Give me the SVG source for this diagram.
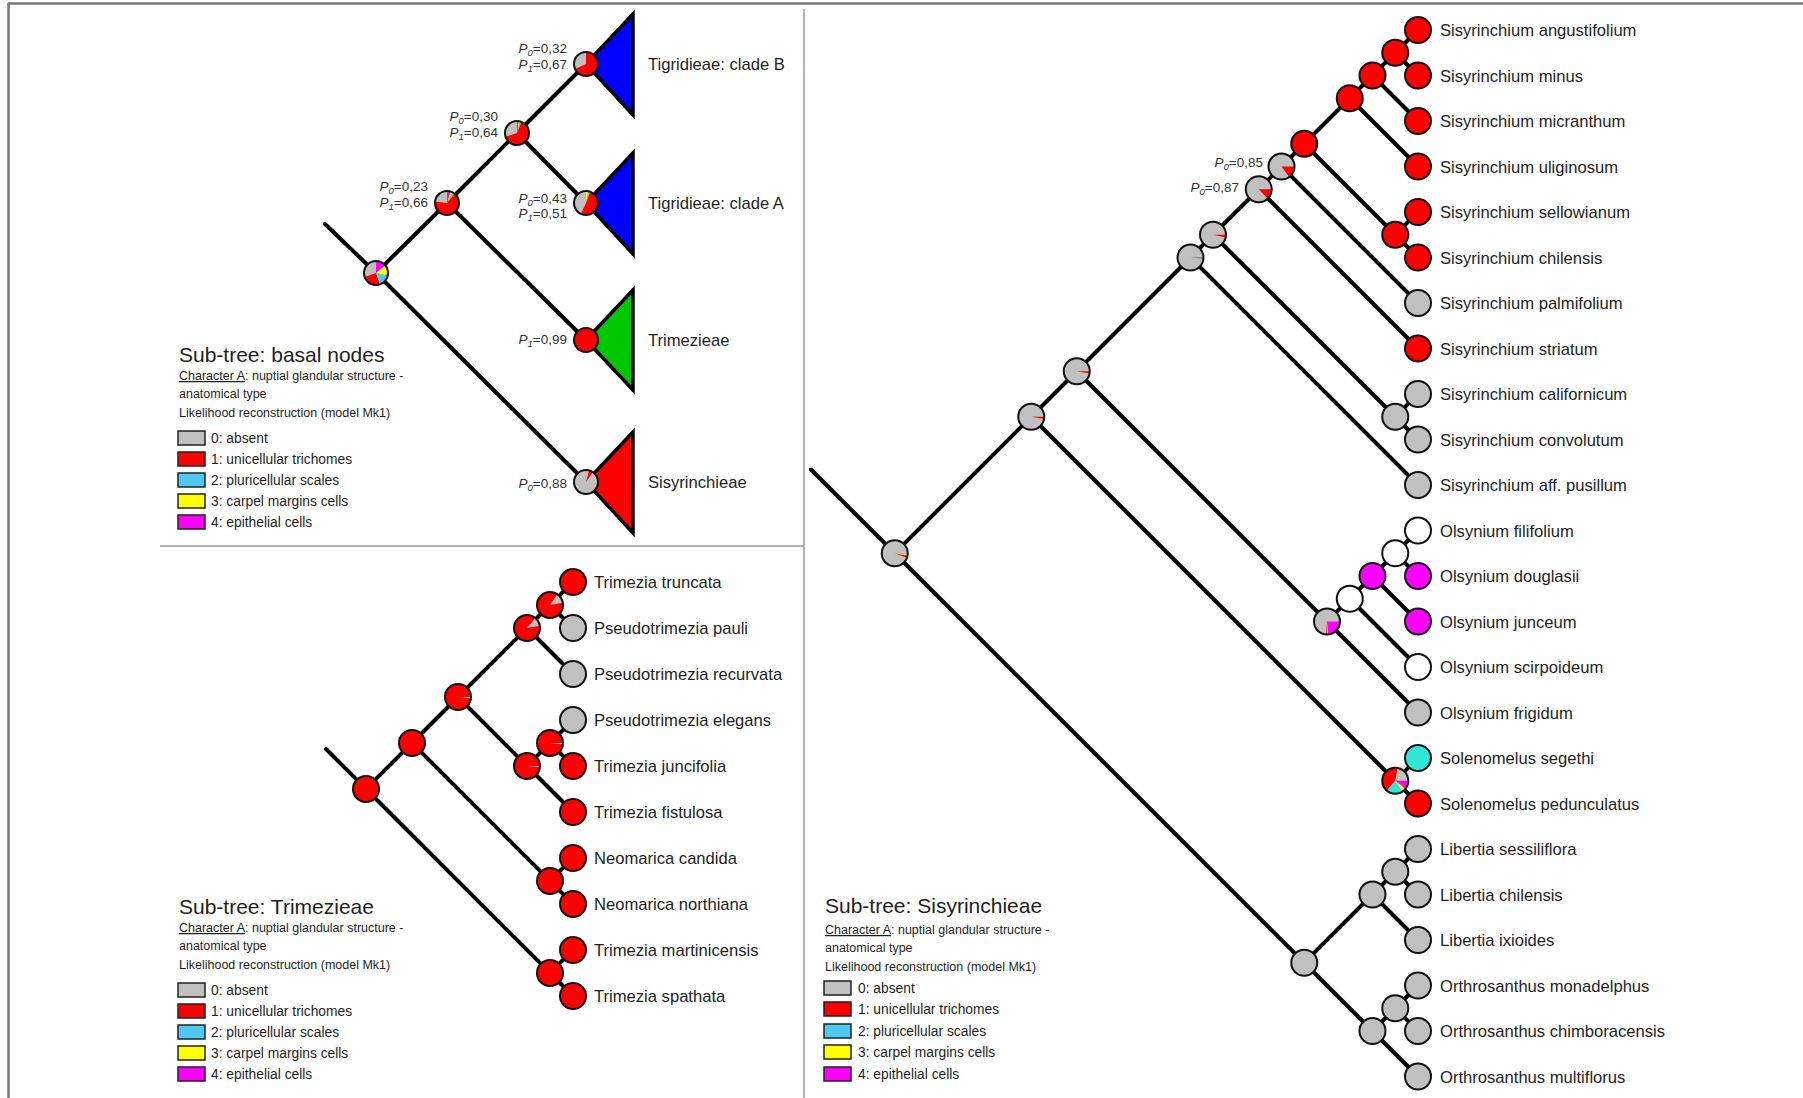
<svg xmlns="http://www.w3.org/2000/svg" width="1803" height="1098" viewBox="0 0 1803 1098">
<style>
text{font-family:"Liberation Sans",Arial,sans-serif;fill:#1e1e1e}
.lab{font-size:16.6px}
.pl{font-size:13.5px;fill:#333}
.ttl{font-size:21px}
.ch{font-size:12.5px}
.li{font-size:13.8px}
.br{stroke:#000;stroke-width:4;fill:none;stroke-linecap:round}
.ring{fill:none;stroke:#111;stroke-width:2}
.frame{stroke:#777;fill:none}
.g{fill:#c0c0c0}.r{fill:#ff0000}.c{fill:#4fc8f2}.y{fill:#ffff00}.m{fill:#ff00ff}.w{fill:#fff}.t{fill:#30e6d4}
.box{stroke:#222;stroke-width:1.5}
.tri{stroke:#000;stroke-width:3.5;stroke-linejoin:miter}
</style>
<rect x="0" y="0" width="1803" height="1098" fill="#fff"/>
<g id="frame">
<line class="frame" x1="8" y1="3.5" x2="1803" y2="3.5" stroke-width="2.5"/>
<line class="frame" x1="8.5" y1="3" x2="8.5" y2="1098" stroke-width="2.5"/>
<line x1="804" y1="9" x2="804" y2="1098" stroke="#999" stroke-width="1.5"/>
<line x1="160" y1="546" x2="804" y2="546" stroke="#999" stroke-width="1.5"/>
</g>

<g id="connectors">
<path class="br" d="M325,224 L376,273 L447,203 L517,133 L586,64 M517,133 L586,203 M447,203 L586,340 M376,273 L586,482"/>
<path class="br" d="M326,749 L366,789 L412,743 L458,697 L527,628 L550,605 L573,582 M550,605 L573,628 M527,628 L573,674 M458,697 L527,766 L550,743 L573,720 M550,743 L573,766 M527,766 L573,812 M412,743 L550,881 L573,858 M550,881 L573,904 M366,789 L550,973 L573,950 M550,973 L573,996"/>
<path class="br" d="M811,469.5 L894.75,553.25 L1031.25,416.75 L1076.75,371.25 L1190.5,257.5 L1213,234.75 L1258.75,189.25 L1281.5,166.5 L1304.25,143.75 L1349.75,98.25 L1372.5,75.5 L1395.25,52.75 L1418,30 M1395.25,52.75 L1418,75.5 M1372.5,75.5 L1418,121 M1349.75,98.25 L1418,166.5 M1304.25,143.75 L1395.25,234.75 L1418,212 M1395.25,234.75 L1418,257.5 M1281.5,166.5 L1418,303 M1258.75,189.25 L1418,348.5 M1213,234.75 L1395.25,416.75 L1418,394 M1395.25,416.75 L1418,439.5 M1190.5,257.5 L1418,485 M1076.75,371.25 L1327,621.5 L1349.75,598.75 L1372.5,576 L1395.25,553.25 L1418,530.5 M1395.25,553.25 L1418,576 M1372.5,576 L1418,621.5 M1349.75,598.75 L1418,667 M1327,621.5 L1418,712.5 M1031.25,416.75 L1395.25,780.75 L1418,758 M1395.25,780.75 L1418,803.5 M894.75,553.25 L1304.25,962.75 L1372.5,894.5 L1395.25,871.75 L1418,849 M1395.25,871.75 L1418,894.5 M1372.5,894.5 L1418,940 M1304.25,962.75 L1372.5,1031 L1395.25,1008.25 L1418,985.5 M1395.25,1008.25 L1418,1031 M1372.5,1031 L1418,1076.5"/>
</g>

<g id="clade-B">
<polygon class="tri" points="586,64 633,14 633,115" fill="#0000ff"/>
<circle class="r" cx="586" cy="64" r="12"/>
<path class="g" d="M586,64 L586,52 A12,12 0 0 0 575.12,69.07 Z"/>
<circle class="ring" cx="586" cy="64" r="12"/>
<text class="lab" x="648" y="70">Tigridieae: clade B</text>
<text class="pl" x="567" y="53" text-anchor="end"><tspan font-style="italic">P</tspan><tspan font-style="italic" font-size="9.5" dy="3">0</tspan><tspan dy="-3">=0,32</tspan></text>
<text class="pl" x="567" y="69" text-anchor="end"><tspan font-style="italic">P</tspan><tspan font-style="italic" font-size="9.5" dy="3">1</tspan><tspan dy="-3">=0,67</tspan></text>
</g>
<g id="clade-A">
<polygon class="tri" points="586,203 633,153 633,254" fill="#0000ff"/>
<circle class="r" cx="586" cy="203" r="12"/>
<path class="g" d="M586,203 L586,191 A12,12 0 0 0 580.93,213.88 Z"/>
<path class="c" d="M586,203 L590.38,191.83 A12,12 0 0 0 588.49,191.26 Z"/>
<path class="y" d="M586,203 L588.49,191.26 A12,12 0 0 0 586,191 Z"/>
<circle class="ring" cx="586" cy="203" r="12"/>
<text class="lab" x="648" y="209">Tigridieae: clade A</text>
<text class="pl" x="567" y="203" text-anchor="end"><tspan font-style="italic">P</tspan><tspan font-style="italic" font-size="9.5" dy="3">0</tspan><tspan dy="-3">=0,43</tspan></text>
<text class="pl" x="567" y="218" text-anchor="end"><tspan font-style="italic">P</tspan><tspan font-style="italic" font-size="9.5" dy="3">1</tspan><tspan dy="-3">=0,51</tspan></text>
</g>
<g id="trimezieae-clade">
<polygon class="tri" points="586,340 633,290 633,390" fill="#00c800"/>
<circle class="r" cx="586" cy="340" r="12"/>
<circle class="ring" cx="586" cy="340" r="12"/>
<text class="lab" x="648" y="346">Trimezieae</text>
<text class="pl" x="567" y="344" text-anchor="end"><tspan font-style="italic">P</tspan><tspan font-style="italic" font-size="9.5" dy="3">1</tspan><tspan dy="-3">=0,99</tspan></text>
</g>
<g id="sisyrinchieae-clade">
<polygon class="tri" points="586,482 633,432 633,533" fill="#ff0000"/>
<circle class="g" cx="586" cy="482" r="12"/>
<path class="r" d="M586,482 L592.88,472.17 A12,12 0 0 0 589.11,470.41 Z"/>
<circle class="ring" cx="586" cy="482" r="12"/>
<text class="lab" x="648" y="488">Sisyrinchieae</text>
<text class="pl" x="567" y="488" text-anchor="end"><tspan font-style="italic">P</tspan><tspan font-style="italic" font-size="9.5" dy="3">0</tspan><tspan dy="-3">=0,88</tspan></text>
</g>
<g id="basal-n2">
<circle class="r" cx="517" cy="133" r="12"/>
<path class="g" d="M517,133 L517,121 A12,12 0 0 0 505.59,136.71 Z"/>
<path class="c" d="M517,133 L521.5,121.87 A12,12 0 0 0 519.9,121.36 Z"/>
<path class="y" d="M517,133 L519.9,121.36 A12,12 0 0 0 518.46,121.09 Z"/>
<path class="m" d="M517,133 L518.46,121.09 A12,12 0 0 0 517,121 Z"/>
<circle class="ring" cx="517" cy="133" r="12"/>
<text class="pl" x="498" y="121" text-anchor="end"><tspan font-style="italic">P</tspan><tspan font-style="italic" font-size="9.5" dy="3">0</tspan><tspan dy="-3">=0,30</tspan></text>
<text class="pl" x="498" y="137" text-anchor="end"><tspan font-style="italic">P</tspan><tspan font-style="italic" font-size="9.5" dy="3">1</tspan><tspan dy="-3">=0,64</tspan></text>
</g>
<g id="basal-n1">
<circle class="r" cx="447" cy="203" r="12"/>
<path class="g" d="M447,203 L447,191 A12,12 0 0 0 435.09,201.54 Z"/>
<path class="c" d="M447,203 L454.71,193.81 A12,12 0 0 0 452.63,192.4 Z"/>
<path class="y" d="M447,203 L452.63,192.4 A12,12 0 0 0 450.11,191.41 Z"/>
<path class="m" d="M447,203 L450.11,191.41 A12,12 0 0 0 447,191 Z"/>
<circle class="ring" cx="447" cy="203" r="12"/>
<text class="pl" x="428" y="191" text-anchor="end"><tspan font-style="italic">P</tspan><tspan font-style="italic" font-size="9.5" dy="3">0</tspan><tspan dy="-3">=0,23</tspan></text>
<text class="pl" x="428" y="207" text-anchor="end"><tspan font-style="italic">P</tspan><tspan font-style="italic" font-size="9.5" dy="3">1</tspan><tspan dy="-3">=0,66</tspan></text>
</g>
<g id="basal-root">
<circle class="g" cx="376" cy="273" r="12"/>
<path class="r" d="M376,273 L364.72,277.1 A12,12 0 0 0 380.1,284.28 Z"/>
<path class="c" d="M376,273 L380.1,284.28 A12,12 0 0 0 387.82,275.08 Z"/>
<path class="y" d="M376,273 L387.82,275.08 A12,12 0 0 0 385.19,265.29 Z"/>
<path class="m" d="M376,273 L385.19,265.29 A12,12 0 0 0 376,261 Z"/>
<circle class="ring" cx="376" cy="273" r="12"/>
</g>

<g id="legend-basal">
<text class="ttl" x="179" y="362">Sub-tree: basal nodes</text>
<text class="ch" x="179" y="380"><tspan text-decoration="underline">Character A</tspan>: nuptial glandular structure -</text>
<text class="ch" x="179" y="398">anatomical type</text>
<text class="ch" x="179" y="417">Likelihood reconstruction (model Mk1)</text>
<rect class="box g" x="178" y="431" width="27" height="14"/><text class="li" x="211" y="443">0: absent</text>
<rect class="box r" x="178" y="452" width="27" height="14"/><text class="li" x="211" y="464">1: unicellular trichomes</text>
<rect class="box c" x="178" y="473" width="27" height="14"/><text class="li" x="211" y="485">2: pluricellular scales</text>
<rect class="box y" x="178" y="494" width="27" height="14"/><text class="li" x="211" y="506">3: carpel margins cells</text>
<rect class="box m" x="178" y="515" width="27" height="14"/><text class="li" x="211" y="527">4: epithelial cells</text>
</g>

<g id="tri-root"><circle class="r" cx="366" cy="789" r="13"/><circle class="ring" cx="366" cy="789" r="13"/></g>
<g id="tri-n7"><circle class="r" cx="412" cy="743" r="13"/><circle class="ring" cx="412" cy="743" r="13"/></g>
<g id="tri-n5"><circle class="r" cx="458" cy="697" r="13"/><path fill="#ffd0d0" d="M458,697 L470.95,698.13 A13,13 0 0 0 471,697 Z"/><circle class="ring" cx="458" cy="697" r="13"/></g>
<g id="tri-n2"><circle class="r" cx="527" cy="628" r="13"/><path class="g" d="M527,628 L539.8,625.74 A13,13 0 0 0 535.36,618.04 Z"/><circle class="ring" cx="527" cy="628" r="13"/></g>
<g id="tri-n1"><circle class="r" cx="550" cy="605" r="13"/><path class="g" d="M550,605 L562.8,602.74 A13,13 0 0 0 557.46,594.35 Z"/><circle class="ring" cx="550" cy="605" r="13"/></g>
<g id="tri-n4"><circle class="r" cx="527" cy="766" r="13"/><path fill="#ffd0d0" d="M527,766 L539.95,767.13 A13,13 0 0 0 540,766 Z"/><circle class="ring" cx="527" cy="766" r="13"/></g>
<g id="tri-n3"><circle class="r" cx="550" cy="743" r="13"/><path fill="#ffd0d0" d="M550,743 L562.95,744.13 A13,13 0 0 0 563,743 Z"/><circle class="ring" cx="550" cy="743" r="13"/></g>
<g id="tri-n6"><circle class="r" cx="550" cy="881" r="13"/><circle class="ring" cx="550" cy="881" r="13"/></g>
<g id="tri-n8"><circle class="r" cx="550" cy="973" r="13"/><circle class="ring" cx="550" cy="973" r="13"/></g>

<g id="trimezia-truncata"><circle class="r" cx="573" cy="582" r="13"/><circle class="ring" cx="573" cy="582" r="13"/><text class="lab" x="594" y="588">Trimezia truncata</text></g>
<g id="pseudotrimezia-pauli"><circle class="g" cx="573" cy="628" r="13"/><circle class="ring" cx="573" cy="628" r="13"/><text class="lab" x="594" y="634">Pseudotrimezia pauli</text></g>
<g id="pseudotrimezia-recurvata"><circle class="g" cx="573" cy="674" r="13"/><circle class="ring" cx="573" cy="674" r="13"/><text class="lab" x="594" y="680">Pseudotrimezia recurvata</text></g>
<g id="pseudotrimezia-elegans"><circle class="g" cx="573" cy="720" r="13"/><circle class="ring" cx="573" cy="720" r="13"/><text class="lab" x="594" y="726">Pseudotrimezia elegans</text></g>
<g id="trimezia-juncifolia"><circle class="r" cx="573" cy="766" r="13"/><circle class="ring" cx="573" cy="766" r="13"/><text class="lab" x="594" y="772">Trimezia juncifolia</text></g>
<g id="trimezia-fistulosa"><circle class="r" cx="573" cy="812" r="13"/><circle class="ring" cx="573" cy="812" r="13"/><text class="lab" x="594" y="818">Trimezia fistulosa</text></g>
<g id="neomarica-candida"><circle class="r" cx="573" cy="858" r="13"/><circle class="ring" cx="573" cy="858" r="13"/><text class="lab" x="594" y="864">Neomarica candida</text></g>
<g id="neomarica-northiana"><circle class="r" cx="573" cy="904" r="13"/><circle class="ring" cx="573" cy="904" r="13"/><text class="lab" x="594" y="910">Neomarica northiana</text></g>
<g id="trimezia-martinicensis"><circle class="r" cx="573" cy="950" r="13"/><circle class="ring" cx="573" cy="950" r="13"/><text class="lab" x="594" y="956">Trimezia martinicensis</text></g>
<g id="trimezia-spathata"><circle class="r" cx="573" cy="996" r="13"/><circle class="ring" cx="573" cy="996" r="13"/><text class="lab" x="594" y="1002">Trimezia spathata</text></g>

<g id="legend-trimezieae">
<text class="ttl" x="179" y="914">Sub-tree: Trimezieae</text>
<text class="ch" x="179" y="932"><tspan text-decoration="underline">Character A</tspan>: nuptial glandular structure -</text>
<text class="ch" x="179" y="950">anatomical type</text>
<text class="ch" x="179" y="969">Likelihood reconstruction (model Mk1)</text>
<rect class="box g" x="178" y="983" width="27" height="14"/><text class="li" x="211" y="995">0: absent</text>
<rect class="box r" x="178" y="1004" width="27" height="14"/><text class="li" x="211" y="1016">1: unicellular trichomes</text>
<rect class="box c" x="178" y="1025" width="27" height="14"/><text class="li" x="211" y="1037">2: pluricellular scales</text>
<rect class="box y" x="178" y="1046" width="27" height="14"/><text class="li" x="211" y="1058">3: carpel margins cells</text>
<rect class="box m" x="178" y="1067" width="27" height="14"/><text class="li" x="211" y="1079">4: epithelial cells</text>
</g>

<g id="sis-root"><circle class="g" cx="894.75" cy="553.25" r="13"/><path class="r" d="M894.75,553.25 L906.97,557.7 A13,13 0 0 0 907.55,555.51 Z"/><path class="y" d="M894.75,553.25 L907.55,555.51 A13,13 0 0 0 907.7,554.38 Z"/><circle class="ring" cx="894.75" cy="553.25" r="13"/></g>
<g id="sis-n-A"><circle class="g" cx="1031.25" cy="416.75" r="13"/><path class="r" d="M1031.25,416.75 L1044.05,419.01 A13,13 0 0 0 1044.25,416.75 Z"/><circle class="ring" cx="1031.25" cy="416.75" r="13"/></g>
<g id="sis-n-C"><circle class="g" cx="1076.75" cy="371.25" r="13"/><path class="r" d="M1076.75,371.25 L1089.55,373.51 A13,13 0 0 0 1089.75,371.25 Z"/><circle class="ring" cx="1076.75" cy="371.25" r="13"/></g>
<g id="sis-n-D"><circle class="g" cx="1190.5" cy="257.5" r="13"/><path fill="#555" d="M1190.5,257.5 L1203.45,258.63 A13,13 0 0 0 1203.5,257.5 Z"/><circle class="ring" cx="1190.5" cy="257.5" r="13"/></g>
<g id="sis-n-E"><circle class="g" cx="1213" cy="234.75" r="13"/><path class="r" d="M1213,234.75 L1225.72,237.45 A13,13 0 0 0 1226,234.75 Z"/><circle class="ring" cx="1213" cy="234.75" r="13"/></g>
<g id="sis-n-F"><circle class="g" cx="1258.75" cy="189.25" r="13"/><path class="r" d="M1258.75,189.25 L1267.62,198.76 A13,13 0 0 0 1271.75,189.25 Z"/><circle class="ring" cx="1258.75" cy="189.25" r="13"/>
<text class="pl" x="1239" y="192" text-anchor="end"><tspan font-style="italic">P</tspan><tspan font-style="italic" font-size="9.5" dy="3">0</tspan><tspan dy="-3">=0,87</tspan></text></g>
<g id="sis-n-H"><circle class="g" cx="1281.5" cy="166.5" r="13"/><path class="r" d="M1281.5,166.5 L1289.14,177.02 A13,13 0 0 0 1294.5,166.5 Z"/><circle class="ring" cx="1281.5" cy="166.5" r="13"/>
<text class="pl" x="1263" y="167" text-anchor="end"><tspan font-style="italic">P</tspan><tspan font-style="italic" font-size="9.5" dy="3">0</tspan><tspan dy="-3">=0,85</tspan></text></g>
<g id="sis-n-I"><circle class="r" cx="1304.25" cy="143.75" r="13"/><circle class="ring" cx="1304.25" cy="143.75" r="13"/></g>
<g id="sis-n-J"><circle class="r" cx="1349.75" cy="98.25" r="13"/><circle class="ring" cx="1349.75" cy="98.25" r="13"/></g>
<g id="sis-n-L"><circle class="r" cx="1372.5" cy="75.5" r="13"/><circle class="ring" cx="1372.5" cy="75.5" r="13"/></g>
<g id="sis-n-M"><circle class="r" cx="1395.25" cy="52.75" r="13"/><circle class="ring" cx="1395.25" cy="52.75" r="13"/></g>
<g id="sis-n-K"><circle class="r" cx="1395.25" cy="234.75" r="13"/><circle class="ring" cx="1395.25" cy="234.75" r="13"/></g>
<g id="sis-n-G"><circle class="g" cx="1395.25" cy="416.75" r="13"/><circle class="ring" cx="1395.25" cy="416.75" r="13"/></g>
<g id="sis-n-O"><circle class="g" cx="1327" cy="621.5" r="13"/><path class="r" d="M1327,621.5 L1326.09,634.47 A13,13 0 0 0 1327,634.5 Z"/><path class="c" d="M1327,621.5 L1327,634.5 A13,13 0 0 0 1327.45,634.49 Z"/><path class="y" d="M1327,621.5 L1327.45,634.49 A13,13 0 0 0 1328.36,634.43 Z"/><path class="m" d="M1327,621.5 L1328.36,634.43 A13,13 0 0 0 1340,621.5 Z"/><circle class="ring" cx="1327" cy="621.5" r="13"/></g>
<g id="sis-n-P"><circle class="w" cx="1349.75" cy="598.75" r="13"/><circle class="ring" cx="1349.75" cy="598.75" r="13"/></g>
<g id="sis-n-Q"><circle class="m" cx="1372.5" cy="576" r="13"/><circle class="ring" cx="1372.5" cy="576" r="13"/></g>
<g id="sis-n-U"><circle class="w" cx="1395.25" cy="553.25" r="13"/><circle class="ring" cx="1395.25" cy="553.25" r="13"/></g>
<g id="sis-n-S"><circle class="g" cx="1395.25" cy="780.75" r="13"/><path class="r" d="M1395.25,780.75 L1397.51,767.95 A13,13 0 0 0 1386.89,790.71 Z"/><path class="t" d="M1395.25,780.75 L1386.89,790.71 A13,13 0 0 0 1402.71,791.4 Z"/><path class="y" d="M1395.25,780.75 L1402.71,791.4 A13,13 0 0 0 1405.49,788.75 Z"/><path class="m" d="M1395.25,780.75 L1405.49,788.75 A13,13 0 0 0 1408.25,780.75 Z"/><circle class="ring" cx="1395.25" cy="780.75" r="13"/></g>
<g id="sis-n-B"><circle class="g" cx="1304.25" cy="962.75" r="13"/><circle class="ring" cx="1304.25" cy="962.75" r="13"/></g>
<g id="sis-n-V"><circle class="g" cx="1372.5" cy="894.5" r="13"/><circle class="ring" cx="1372.5" cy="894.5" r="13"/></g>
<g id="sis-n-X"><circle class="g" cx="1395.25" cy="871.75" r="13"/><circle class="ring" cx="1395.25" cy="871.75" r="13"/></g>
<g id="sis-n-W"><circle class="g" cx="1372.5" cy="1031" r="13"/><circle class="ring" cx="1372.5" cy="1031" r="13"/></g>
<g id="sis-n-Y"><circle class="g" cx="1395.25" cy="1008.25" r="13"/><circle class="ring" cx="1395.25" cy="1008.25" r="13"/></g>

<g id="s-angustifolium"><circle class="r" cx="1418" cy="30" r="13"/><circle class="ring" cx="1418" cy="30" r="13"/><text class="lab" x="1440" y="36">Sisyrinchium angustifolium</text></g>
<g id="s-minus"><circle class="r" cx="1418" cy="75.5" r="13"/><circle class="ring" cx="1418" cy="75.5" r="13"/><text class="lab" x="1440" y="81.5">Sisyrinchium minus</text></g>
<g id="s-micranthum"><circle class="r" cx="1418" cy="121" r="13"/><circle class="ring" cx="1418" cy="121" r="13"/><text class="lab" x="1440" y="127">Sisyrinchium micranthum</text></g>
<g id="s-uliginosum"><circle class="r" cx="1418" cy="166.5" r="13"/><circle class="ring" cx="1418" cy="166.5" r="13"/><text class="lab" x="1440" y="172.5">Sisyrinchium uliginosum</text></g>
<g id="s-sellowianum"><circle class="r" cx="1418" cy="212" r="13"/><circle class="ring" cx="1418" cy="212" r="13"/><text class="lab" x="1440" y="218">Sisyrinchium sellowianum</text></g>
<g id="s-chilensis"><circle class="r" cx="1418" cy="257.5" r="13"/><circle class="ring" cx="1418" cy="257.5" r="13"/><text class="lab" x="1440" y="263.5">Sisyrinchium chilensis</text></g>
<g id="s-palmifolium"><circle class="g" cx="1418" cy="303" r="13"/><circle class="ring" cx="1418" cy="303" r="13"/><text class="lab" x="1440" y="309">Sisyrinchium palmifolium</text></g>
<g id="s-striatum"><circle class="r" cx="1418" cy="348.5" r="13"/><circle class="ring" cx="1418" cy="348.5" r="13"/><text class="lab" x="1440" y="354.5">Sisyrinchium striatum</text></g>
<g id="s-californicum"><circle class="g" cx="1418" cy="394" r="13"/><circle class="ring" cx="1418" cy="394" r="13"/><text class="lab" x="1440" y="400">Sisyrinchium californicum</text></g>
<g id="s-convolutum"><circle class="g" cx="1418" cy="439.5" r="13"/><circle class="ring" cx="1418" cy="439.5" r="13"/><text class="lab" x="1440" y="445.5">Sisyrinchium convolutum</text></g>
<g id="s-pusillum"><circle class="g" cx="1418" cy="485" r="13"/><circle class="ring" cx="1418" cy="485" r="13"/><text class="lab" x="1440" y="491">Sisyrinchium aff. pusillum</text></g>
<g id="o-filifolium"><circle class="w" cx="1418" cy="530.5" r="13"/><circle class="ring" cx="1418" cy="530.5" r="13"/><text class="lab" x="1440" y="536.5">Olsynium filifolium</text></g>
<g id="o-douglasii"><circle class="m" cx="1418" cy="576" r="13"/><circle class="ring" cx="1418" cy="576" r="13"/><text class="lab" x="1440" y="582">Olsynium douglasii</text></g>
<g id="o-junceum"><circle class="m" cx="1418" cy="621.5" r="13"/><circle class="ring" cx="1418" cy="621.5" r="13"/><text class="lab" x="1440" y="627.5">Olsynium junceum</text></g>
<g id="o-scirpoideum"><circle class="w" cx="1418" cy="667" r="13"/><circle class="ring" cx="1418" cy="667" r="13"/><text class="lab" x="1440" y="673">Olsynium scirpoideum</text></g>
<g id="o-frigidum"><circle class="g" cx="1418" cy="712.5" r="13"/><circle class="ring" cx="1418" cy="712.5" r="13"/><text class="lab" x="1440" y="718.5">Olsynium frigidum</text></g>
<g id="sol-segethi"><circle class="t" cx="1418" cy="758" r="13"/><circle class="ring" cx="1418" cy="758" r="13"/><text class="lab" x="1440" y="764">Solenomelus segethi</text></g>
<g id="sol-pedunculatus"><circle class="r" cx="1418" cy="803.5" r="13"/><circle class="ring" cx="1418" cy="803.5" r="13"/><text class="lab" x="1440" y="809.5">Solenomelus pedunculatus</text></g>
<g id="l-sessiliflora"><circle class="g" cx="1418" cy="849" r="13"/><circle class="ring" cx="1418" cy="849" r="13"/><text class="lab" x="1440" y="855">Libertia sessiliflora</text></g>
<g id="l-chilensis"><circle class="g" cx="1418" cy="894.5" r="13"/><circle class="ring" cx="1418" cy="894.5" r="13"/><text class="lab" x="1440" y="900.5">Libertia chilensis</text></g>
<g id="l-ixioides"><circle class="g" cx="1418" cy="940" r="13"/><circle class="ring" cx="1418" cy="940" r="13"/><text class="lab" x="1440" y="946">Libertia ixioides</text></g>
<g id="or-monadelphus"><circle class="g" cx="1418" cy="985.5" r="13"/><circle class="ring" cx="1418" cy="985.5" r="13"/><text class="lab" x="1440" y="991.5">Orthrosanthus monadelphus</text></g>
<g id="or-chimboracensis"><circle class="g" cx="1418" cy="1031" r="13"/><circle class="ring" cx="1418" cy="1031" r="13"/><text class="lab" x="1440" y="1037">Orthrosanthus chimboracensis</text></g>
<g id="or-multiflorus"><circle class="g" cx="1418" cy="1076.5" r="13"/><circle class="ring" cx="1418" cy="1076.5" r="13"/><text class="lab" x="1440" y="1082.5">Orthrosanthus multiflorus</text></g>

<g id="legend-sisyrinchieae">
<text class="ttl" x="825" y="913">Sub-tree: Sisyrinchieae</text>
<text class="ch" x="825" y="934"><tspan text-decoration="underline">Character A</tspan>: nuptial glandular structure -</text>
<text class="ch" x="825" y="952">anatomical type</text>
<text class="ch" x="825" y="971">Likelihood reconstruction (model Mk1)</text>
<rect class="box g" x="824" y="981" width="27" height="14"/><text class="li" x="858" y="993">0: absent</text>
<rect class="box r" x="824" y="1002" width="27" height="14"/><text class="li" x="858" y="1014">1: unicellular trichomes</text>
<rect class="box c" x="824" y="1024" width="27" height="14"/><text class="li" x="858" y="1036">2: pluricellular scales</text>
<rect class="box y" x="824" y="1045" width="27" height="14"/><text class="li" x="858" y="1057">3: carpel margins cells</text>
<rect class="box m" x="824" y="1067" width="27" height="14"/><text class="li" x="858" y="1079">4: epithelial cells</text>
</g>
</svg>
